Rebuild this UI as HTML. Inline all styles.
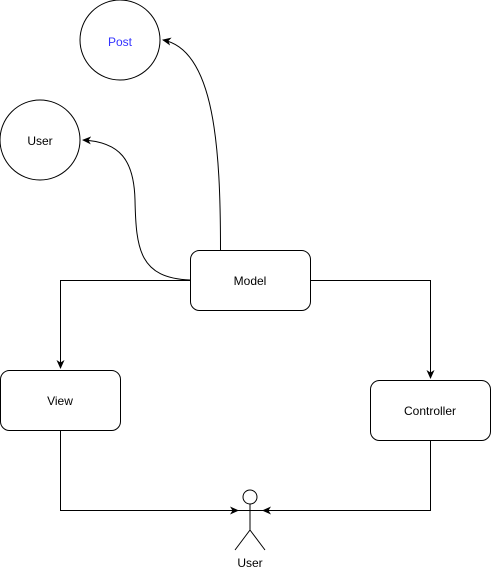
<!DOCTYPE html>
<html><head><style>
html,body{margin:0;padding:0;background:#fff;width:491px;height:572px;overflow:hidden}
text{font-family:"Liberation Sans",Arial,sans-serif;font-size:12px}
</style></head><body>
<svg width="491" height="572" viewBox="0 0 491 572" xmlns="http://www.w3.org/2000/svg">
<defs><marker id="a" markerWidth="10" markerHeight="8" refX="8" refY="4" orient="auto" markerUnits="userSpaceOnUse"><path d="M0,0 L9,4 L0,8 L2.5,4 Z" fill="#000"/></marker></defs>
<g fill="#fff" stroke="#000" stroke-width="1">
<circle cx="120" cy="40" r="40"/>
<circle cx="40" cy="140" r="40"/>
<rect x="190.5" y="250.5" width="120" height="60" rx="9"/>
<rect x="0.5" y="370.5" width="120" height="60" rx="9"/>
<rect x="370.5" y="380.5" width="120" height="60" rx="9"/>
</g>
<g fill="none" stroke="#000" stroke-width="1">
<path d="M220.5,250 C220.5,150 215,50 163,40" marker-end="url(#a)"/>
<path d="M190,280 C140,278 136,250 135,200 C134,160 120,142 83,140" marker-end="url(#a)"/>
<path d="M190,280.5 H60.5 V368" marker-end="url(#a)"/>
<path d="M310,280.5 H430.5 V378" marker-end="url(#a)"/>
<path d="M60.5,430 V510.5 H238" marker-end="url(#a)"/>
<path d="M430.5,440 V510.5 H263" marker-end="url(#a)"/>
<circle cx="250" cy="497" r="7"/>
<path d="M250,504 V530 M235,510.5 H265 M250,530 L235,550 M250,530 L265,550"/>
</g>
<text x="120" y="46" text-anchor="middle" fill="#3333ff">Post</text>
<text x="40" y="145" text-anchor="middle">User</text>
<text x="250" y="285" text-anchor="middle">Model</text>
<text x="60" y="405" text-anchor="middle">View</text>
<text x="430" y="415" text-anchor="middle">Controller</text>
<text x="250" y="567" text-anchor="middle">User</text>
</svg>
</body></html>
